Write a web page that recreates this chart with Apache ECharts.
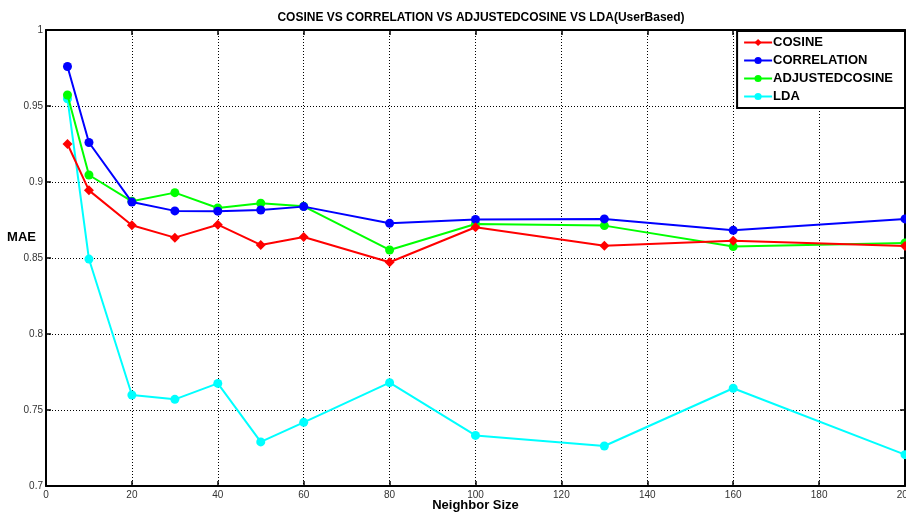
<!DOCTYPE html>
<html>
<head>
<meta charset="utf-8">
<script src="https://cdn.jsdelivr.net/npm/echarts@6/dist/echarts.min.js"></script>
<style>
  html, body { margin: 0; padding: 0; background: #fff; }
  #chart { width: 906px; height: 515px; }
</style>
</head>
<body>
<div id="chart"></div>
<script>
// Neighbourhood sizes tested
const neighborSizes = [5, 10, 20, 30, 40, 50, 60, 80, 100, 130, 160, 200];

// Mean absolute error per similarity measure
const cosine         = [0.925, 0.8945, 0.8715, 0.8634, 0.8719, 0.8586, 0.8638, 0.8472, 0.8702, 0.8581, 0.8614, 0.8579];
const correlation    = [0.976, 0.926, 0.8868, 0.881, 0.8808, 0.8816, 0.8838, 0.8728, 0.8754, 0.8757, 0.8682, 0.8757];
const adjustedCosine = [0.9572, 0.9046, 0.8873, 0.893, 0.8829, 0.886, 0.884, 0.8553, 0.8724, 0.8713, 0.8575, 0.8599];
const lda            = [0.9548, 0.8493, 0.7599, 0.757, 0.7675, 0.729, 0.7419, 0.768, 0.7333, 0.7263, 0.7643, 0.7206];

const seriesNames = ['COSINE', 'CORRELATION', 'ADJUSTEDCOSINE', 'LDA'];
const seriesColors = ['#ff0000', '#0000ff', '#00ff00', '#00ffff'];
const seriesSymbols = ['diamond', 'circle', 'circle', 'circle'];
const seriesValues = [cosine, correlation, adjustedCosine, lda];

const chart = echarts.init(document.getElementById('chart'), null, { renderer: 'canvas' });

const fontFamily = 'Liberation Sans, Arial, sans-serif';
const labelStyle = { color: '#333', fontSize: 10, fontFamily };
const dotted = { show: true, lineStyle: { color: '#000', type: [1, 2], width: 1 } };
const frameLine = { show: true, onZero: false, lineStyle: { color: '#000', width: 2 } };
const innerTick = { show: true, inside: true, length: 5, lineStyle: { color: '#000', width: 1.5 } };

const series = seriesNames.map((name, i) => ({
  name,
  type: 'line',
  data: neighborSizes.map((n, j) => [n, seriesValues[i][j]]),
  symbol: seriesSymbols[i],
  symbolSize: i === 0 ? 10 : 9,
  lineStyle: { color: seriesColors[i], width: 2 },
  itemStyle: { color: seriesColors[i] },
  z: 10 - i
}));

chart.setOption({
  animation: false,
  backgroundColor: '#fff',
  title: {
    text: 'COSINE VS CORRELATION VS ADJUSTEDCOSINE VS LDA(UserBased)',
    left: 476, textAlign: 'center', top: 7,
    textStyle: { fontSize: 12, fontWeight: 'bold', color: '#000', fontFamily }
  },
  grid: { left: 46, right: 1, top: 30, bottom: 29, outerBoundsMode: 'none', containLabel: false },
  legend: {
    right: 1, top: 31,
    orient: 'vertical',
    backgroundColor: '#fff',
    borderColor: '#000', borderWidth: 2,
    padding: [5, 12, 5, 6],
    itemGap: 5,
    itemWidth: 28, itemHeight: 9,
    textStyle: { fontSize: 13, fontWeight: 'bold', color: '#000', fontFamily, padding: [0, 0, 0, -4] },
    data: seriesNames
  },
  xAxis: [
    {
      type: 'value', min: 0, max: 200, interval: 20,
      name: 'Neighbor Size', nameLocation: 'middle', nameGap: 13, nameMoveOverlap: false,
      nameTextStyle: { fontSize: 13, fontWeight: 'bold', color: '#000', fontFamily },
      axisLine: frameLine,
      axisTick: innerTick,
      axisLabel: Object.assign({ margin: 4, showMaxLabel: true }, labelStyle),
      splitLine: dotted
    },
    {
      type: 'value', min: 0, max: 200, interval: 20, position: 'top',
      axisLine: frameLine,
      axisTick: innerTick,
      axisLabel: { show: false },
      splitLine: { show: false }
    }
  ],
  yAxis: [
    {
      type: 'value', min: 0.7, max: 1, interval: 0.05,
      name: 'MAE', nameLocation: 'middle', nameRotate: 0, nameGap: 10, nameMoveOverlap: false,
      nameTextStyle: { fontSize: 13, fontWeight: 'bold', color: '#000', fontFamily, verticalAlign: 'bottom', padding: [0, 0, 14, 0] },
      axisLine: frameLine,
      axisTick: innerTick,
      axisLabel: Object.assign({ margin: 3, formatter: v => String(+v.toFixed(2)) }, labelStyle),
      splitLine: dotted
    },
    {
      type: 'value', min: 0.7, max: 1, interval: 0.05, position: 'right',
      axisLine: frameLine,
      axisTick: innerTick,
      axisLabel: { show: false },
      splitLine: { show: false }
    }
  ],
  series
});
</script>
</body>
</html>
